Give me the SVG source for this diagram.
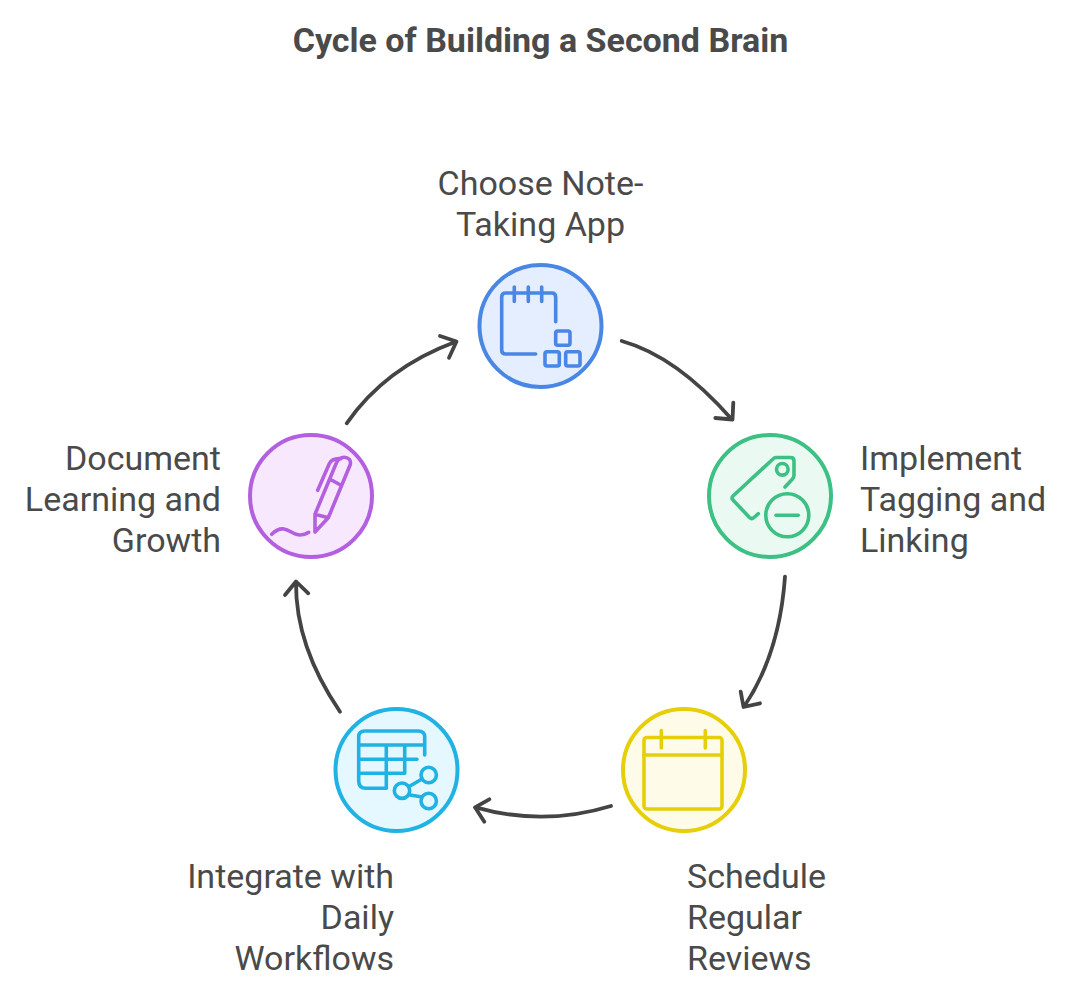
<svg xmlns="http://www.w3.org/2000/svg" width="1081" height="1000" viewBox="0 0 1081 1000">
<style>
text{font-family:Roboto,"Liberation Sans",sans-serif;font-size:34px;fill:#4a4a4a}
.t{font-weight:700;text-anchor:middle}
.m{text-anchor:middle}.e{text-anchor:end}
.c{stroke-width:4}
.i{fill:none;stroke-width:3.6;stroke-linecap:round;stroke-linejoin:round}
.a{fill:none;stroke:#444;stroke-width:3.8;stroke-linecap:round;stroke-linejoin:round}
</style>
<rect width="1081" height="1000" fill="#fff"/>
<text class="t" x="540.500" y="52">Cycle of Building a Second Brain</text>
<g id="connectors" class="a">
<path d="M621.700 341Q676.700 356.400 731.700 419.300M715.300 418L732.500 419.500L733.300 402.700"/>
<path d="M785 576.700Q779.500 654.300 744 706.700M740.700 691.700L743.500 707L760 703.300"/>
<path d="M611 806Q543.300 826.700 475.700 807.300M489.300 799.300L475 807.300L484.300 821.700"/>
<path d="M340 711.700Q295.400 646.400 296 582.300M285 595L296 581.500L308.300 593.300"/>
<path d="M346.700 423.300Q385.400 367.500 455.700 341.700M440 336L456.500 341.500L449 357.700"/>
</g>
<g id="node-1">
<circle class="c" cx="540.500" cy="326" r="61" fill="#e5eefe" stroke="#4a86e4"/>
<g class="i" stroke="#4a86e4">
<path d="M555.700 321.700V297Q555.700 293 551.700 293H505.700Q501.700 293 501.700 297V350Q501.700 354 505.700 354H535.700M514.300 287V301.500M528.300 287V301.500M541.700 287V301.500"/>
<rect x="555.700" y="331" width="14.300" height="14.300" rx="2"/>
<rect x="545" y="351.700" width="14.300" height="14.300" rx="2"/>
<rect x="565.700" y="351.700" width="14.300" height="14.300" rx="2"/>
</g>
<text class="m" x="540.500" y="195">Choose Note-</text>
<text class="m" x="540.500" y="236">Taking App</text>
</g>
<g id="node-2">
<circle class="c" cx="770" cy="496" r="61" fill="#eafaf3" stroke="#3cc083"/>
<g class="i" stroke="#3cc083">
<path d="M785 487L792.500 479Q794 477 794 475V461Q794 457.500 790.500 457.500H776Q774.500 457.500 773 459L733 496Q731 498 733 500L749.500 517.500Q751.700 519.500 754 517.500L758.300 513.700"/>
<circle cx="782.300" cy="469.300" r="5.800"/>
<circle cx="787.300" cy="515.300" r="21.500"/>
<path d="M776 515.300H798.300"/>
</g>
<text x="860" y="470">Implement</text>
<text x="860" y="511">Tagging and</text>
<text x="860" y="552">Linking</text>
</g>
<g id="node-3">
<circle class="c" cx="684" cy="770" r="61" fill="#fefce8" stroke="#e6cf08"/>
<g class="i" stroke="#e6cf08">
<rect x="644" y="737.500" width="78" height="71.500" rx="3"/>
<path d="M644 755H722M661.300 730.500V748M705.300 730.500V748"/>
</g>
<text x="687" y="888">Schedule</text>
<text x="687" y="929">Regular</text>
<text x="687" y="970">Reviews</text>
</g>
<g id="node-4">
<circle class="c" cx="396.500" cy="770" r="61" fill="#e5f8ff" stroke="#1fb2e3"/>
<g class="i" stroke="#1fb2e3">
<path d="M424.700 755V737Q424.700 731 418 731H365Q358.700 731 358.700 737V781Q358.700 788.300 366 788.300H386.300V745M358.700 745H424.700M358.700 759.300H417M358.700 773.300H404.700V745"/>
<circle cx="402" cy="790.700" r="7.700"/>
<circle cx="428.700" cy="775" r="7.700"/>
<circle cx="428.700" cy="801" r="7.700"/>
<path d="M408.700 786.700L422 779M408.700 794.700L422 797"/>
</g>
<text class="e" x="394" y="888">Integrate with</text>
<text class="e" x="394" y="929">Daily</text>
<text class="e" x="394" y="970">Workflows</text>
</g>
<g id="node-5">
<circle class="c" cx="311" cy="496" r="61" fill="#f7e8fe" stroke="#b35fe0"/>
<g class="i" stroke="#b35fe0">
<path d="M315 514.300L336 463.700Q339 457 344.300 457.200Q351.500 458 350.300 464.500L328.300 517.700L315 532ZM315 514.300L328.300 517.700M331 479.700L341 485.300"/>
<path d="M317.700 490.300L329.300 463.700Q332 458 341 458.700"/>
<path d="M271.700 534.300C276 530 280 528.500 284 529C290 530 294 535 300 535Q305 535 308.700 532.300"/>
</g>
<text class="e" x="221" y="470">Document</text>
<text class="e" x="221" y="511">Learning and</text>
<text class="e" x="221" y="552">Growth</text>
</g>
</svg>
